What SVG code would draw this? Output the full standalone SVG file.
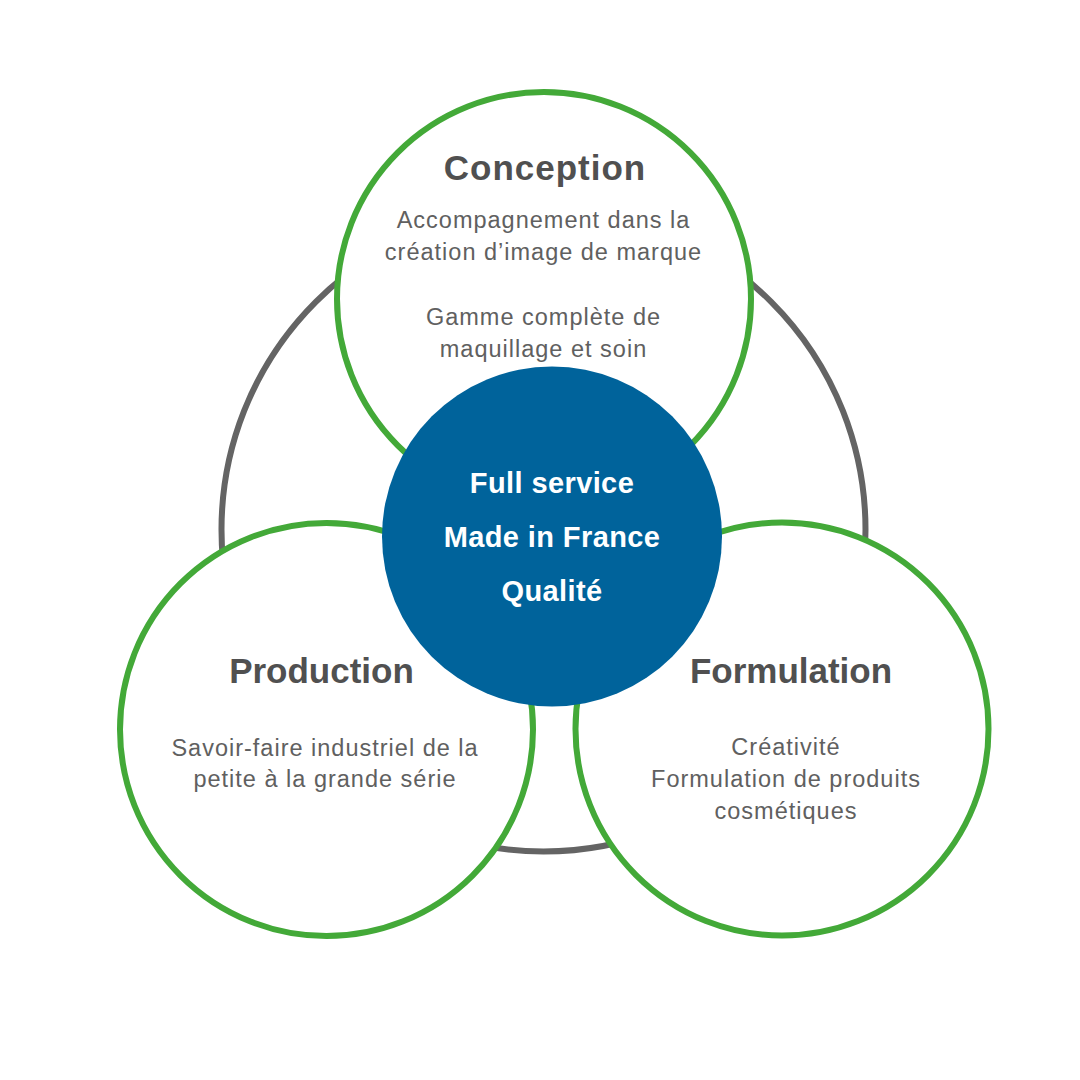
<svg xmlns="http://www.w3.org/2000/svg" width="1080" height="1080" viewBox="0 0 1080 1080">
<style>
.ring{fill:none;stroke:#646464;stroke-width:6}
.green{fill:#ffffff;stroke:#43a938;stroke-width:6}
.core{fill:#00639b}
.title{font-family:"Liberation Sans",Arial,sans-serif;font-weight:bold;font-size:35px;fill:#505050;text-anchor:middle}
.sub{font-family:"Liberation Sans",Arial,sans-serif;font-size:23.5px;fill:#606060;text-anchor:middle;letter-spacing:1px}
.center{font-family:"Liberation Sans",Arial,sans-serif;font-weight:bold;font-size:29px;fill:#ffffff;text-anchor:middle;letter-spacing:0.4px}
</style>
<rect width="1080" height="1080" fill="#ffffff"/>
<g id="connectors">
<circle class="ring" cx="543.5" cy="529.5" r="322"/>
</g>
<g id="conception">
<circle class="green" cx="544" cy="299" r="207"/>
<text class="title" x="545" y="180" letter-spacing="1">Conception</text>
<text class="sub" x="543.5" y="228">Accompagnement dans la</text>
<text class="sub" x="543.5" y="260">création d’image de marque</text>
<text class="sub" x="543.5" y="325">Gamme complète de</text>
<text class="sub" x="543.5" y="357">maquillage et soin</text>
</g>
<g id="production">
<circle class="green" cx="326.5" cy="729.5" r="206.5"/>
<text class="title" x="321.5" y="683">Production</text>
<text class="sub" x="325" y="756">Savoir-faire industriel de la</text>
<text class="sub" x="325" y="787">petite à la grande série</text>
</g>
<g id="formulation">
<circle class="green" cx="782" cy="729" r="206.5"/>
<text class="title" x="791" y="683">Formulation</text>
<text class="sub" x="786" y="755">Créativité</text>
<text class="sub" x="786" y="787">Formulation de produits</text>
<text class="sub" x="786" y="819">cosmétiques</text>
</g>
<g id="core">
<circle class="core" cx="552" cy="536.5" r="170"/>
<text class="center" x="552" y="493">Full service</text>
<text class="center" x="552" y="547">Made in France</text>
<text class="center" x="552" y="601">Qualité</text>
</g>
</svg>
